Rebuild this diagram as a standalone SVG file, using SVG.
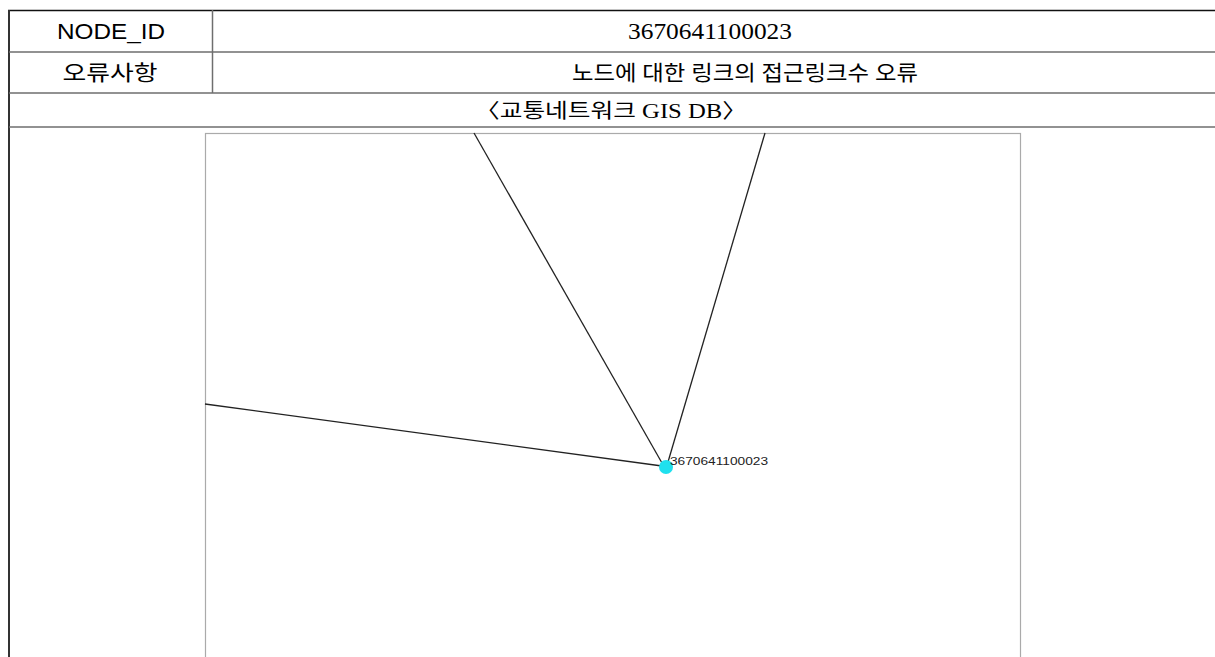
<svg xmlns="http://www.w3.org/2000/svg" width="1215" height="657" viewBox="0 0 1215 657">
<style>
.grid{stroke:#6e6e6e;stroke-width:1.5;fill:none}
.sans{font-family:"Liberation Sans","Noto Sans CJK KR",sans-serif;fill:#000}
.serif{font-family:"Liberation Serif","Noto Sans CJK KR",serif;fill:#000}
.link{stroke:#222;stroke-width:1.3;fill:none}
</style>
<rect width="1215" height="657" fill="#fff"/>
<g id="table">
<line x1="8" y1="10.5" x2="1215" y2="10.5" stroke="#111" stroke-width="1.5"/>
<line x1="9" y1="10" x2="9" y2="657" stroke="#333" stroke-width="2"/>
<line class="grid" x1="9" y1="52" x2="1215" y2="52"/>
<line class="grid" x1="9" y1="93" x2="1215" y2="93"/>
<line class="grid" x1="9" y1="127" x2="1215" y2="127"/>
<line class="grid" x1="212.5" y1="10" x2="212.5" y2="93"/>
</g>
<g id="node-id-label"><text class="sans" x="111" y="39" font-size="22" text-anchor="middle" textLength="108" lengthAdjust="spacingAndGlyphs">NODE_ID</text></g>
<g id="node-id-value"><text class="serif" x="628" y="39" font-size="24" textLength="164" lengthAdjust="spacingAndGlyphs">3670641100023</text></g>
<g id="error-label"><text class="sans" x="110" y="80" font-size="21" text-anchor="middle" textLength="95" lengthAdjust="spacingAndGlyphs">오류사항</text></g>
<g id="error-value"><text class="serif" x="572" y="80" font-size="21" textLength="346" lengthAdjust="spacingAndGlyphs">노드에 대한 링크의 접근링크수 오류</text></g>
<g id="caption"><text class="serif" x="475" y="118" font-size="20" textLength="272" lengthAdjust="spacingAndGlyphs">〈교통네트워크 GIS DB〉</text></g>
<g id="map">
<rect x="205.5" y="133.5" width="815" height="540" fill="none" stroke="#aaa" stroke-width="1.2"/>
</g>
<g id="connectors">
<line class="link" x1="474" y1="133" x2="662" y2="463"/>
<line class="link" x1="765" y1="133" x2="668" y2="462"/>
<line class="link" x1="205" y1="404" x2="662" y2="466"/>
</g>
<g id="node-3670641100023">
<circle cx="666" cy="467" r="7" fill="#1fe0ee"/>
<text x="670" y="465" font-family="Liberation Sans, sans-serif" font-size="10" fill="#222" textLength="98" lengthAdjust="spacingAndGlyphs">3670641100023</text>
</g>
</svg>
